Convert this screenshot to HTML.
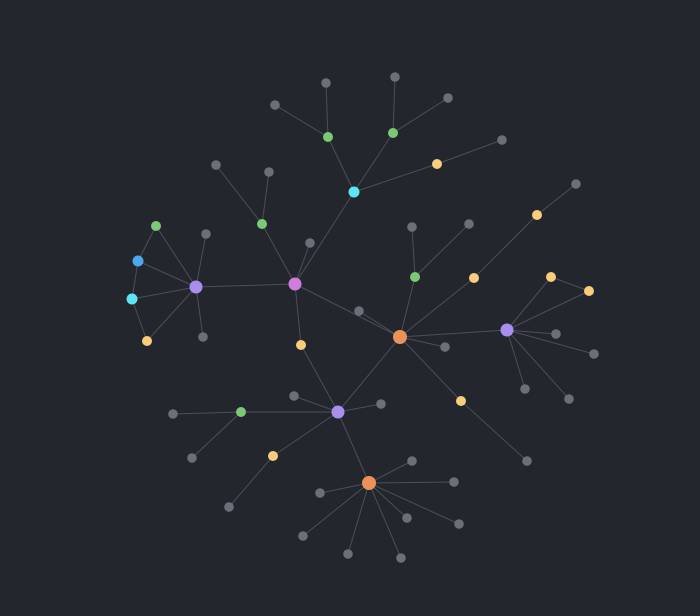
<!DOCTYPE html>
<html><head><meta charset="utf-8"><style>
html,body{margin:0;padding:0;background:#24262e;}
svg{display:block;}
</style></head><body>
<svg id="chart" width="700" height="616" viewBox="0 0 700 616">
<rect width="700" height="616" fill="#24262e"/>
<g id="edges"></g>
<g id="nodes"></g>
</svg>
<script>
const nodeX = [400,369,338,196,507,295,354,132,138,328,393,262,156,415,241,437,537,474,551,589,301,147,461,273,326,395,448,275,502,216,269,310,206,203,412,469,576,359,445,556,594,525,569,294,381,173,192,229,412,454,320,407,459,303,348,401,527];
const nodeY = [337,483,412,287,330,284,192,299,261,137,133,224,226,277,412,164,215,278,277,291,345,341,401,456,83,77,98,105,140,165,172,243,234,337,227,224,184,311,347,334,354,389,399,396,404,414,458,507,461,482,493,518,524,536,554,558,461];
const nodeType = ["orange","orange","purple","purple","purple","magenta","cyan","cyan","blue","green","green","green","green","green","green","yellow","yellow","yellow","yellow","yellow","yellow","yellow","yellow","yellow","gray","gray","gray","gray","gray","gray","gray","gray","gray","gray","gray","gray","gray","gray","gray","gray","gray","gray","gray","gray","gray","gray","gray","gray","gray","gray","gray","gray","gray","gray","gray","gray","gray"];
const edgeFrom = [0,0,0,0,0,0,0,0,13,13,17,16,4,4,4,4,4,4,18,22,5,5,5,5,5,6,6,6,9,9,10,10,15,11,11,3,3,3,3,3,3,12,8,7,20,2,2,2,2,2,14,14,23,1,1,1,1,1,1,1,1];
const edgeTo   = [5,37,2,4,13,17,38,22,34,35,16,36,18,19,39,40,41,42,19,56,6,11,3,31,20,9,10,15,24,27,25,26,28,29,30,12,8,7,21,32,33,8,7,21,2,43,44,14,23,1,45,46,47,48,49,50,51,52,53,54,55];
const colors = {orange:"#ea925a",purple:"#a98ef0",magenta:"#d07ddc",cyan:"#5ee5f5",blue:"#4ba8ec",green:"#7bc975",yellow:"#f8cd7b",gray:"#6d6f78"};
const radius = {orange:7,purple:6.5,magenta:6.5,cyan:5.5,blue:5.5,green:5,yellow:5,gray:4.8};
const NS="http://www.w3.org/2000/svg";
const eg=document.getElementById('edges'), ng=document.getElementById('nodes');
for(let i=0;i<edgeFrom.length;i++){
  const l=document.createElementNS(NS,'line');
  l.setAttribute('x1',nodeX[edgeFrom[i]]);l.setAttribute('y1',nodeY[edgeFrom[i]]);
  l.setAttribute('x2',nodeX[edgeTo[i]]);l.setAttribute('y2',nodeY[edgeTo[i]]);
  l.setAttribute('stroke','#4c4f59');l.setAttribute('stroke-width','1');
  
  
  eg.appendChild(l);
}
for(let i=0;i<nodeX.length;i++){
  const c=document.createElementNS(NS,'circle');
  c.setAttribute('cx',nodeX[i]);c.setAttribute('cy',nodeY[i]);
  c.setAttribute('r',radius[nodeType[i]]);c.setAttribute('fill',colors[nodeType[i]]);
  
  
  ng.appendChild(c);
}
</script>
</body></html>
